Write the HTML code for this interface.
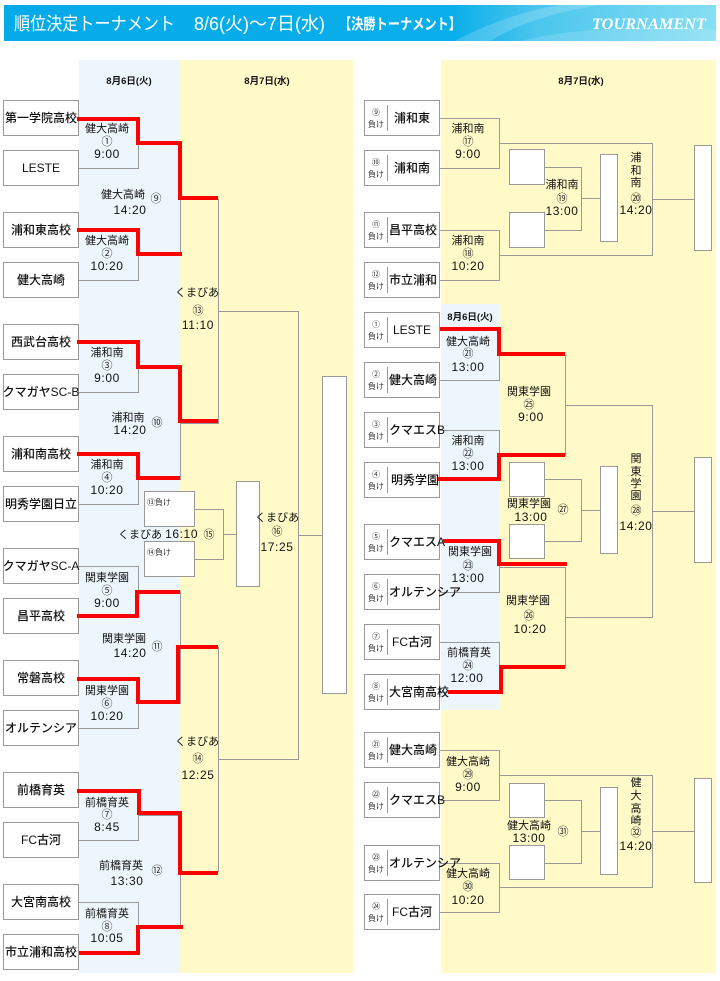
<!DOCTYPE html>
<html><head><meta charset="utf-8">
<style>
html,body{margin:0;padding:0;background:#fff;}
svg{display:block;}
text{font-family:"Liberation Sans","Noto Sans CJK JP",sans-serif;fill:#111;}
.nm{font-size:12px;font-weight:500;}
.lb{font-size:11px;text-anchor:middle;}
.cn{font-size:11px;text-anchor:middle;fill:#333;}
.tm{font-size:12px;text-anchor:middle;letter-spacing:0.6px;}
.sm{font-size:8px;text-anchor:middle;fill:#333;}
.hd{font-size:9.5px;font-weight:bold;text-anchor:middle;}
.g{fill:none;stroke:#999;stroke-width:1;}
.bx{fill:#fff;stroke:#999;stroke-width:1;}
.r{fill:none;stroke:#f00;stroke-width:4;}
</style></head>
<body>
<svg width="720" height="981" viewBox="0 0 720 981" xmlns="http://www.w3.org/2000/svg">
<defs>
<linearGradient id="hg" x1="0" y1="0" x2="1" y2="0">
<stop offset="0" stop-color="#06aae8"/><stop offset="0.63" stop-color="#0aaeea"/><stop offset="0.75" stop-color="#4cc6ee"/><stop offset="1" stop-color="#86def2"/>
</linearGradient>
</defs>
<!-- header -->
<rect x="4" y="5" width="712" height="36" fill="url(#hg)"/>
<path d="M455,41 Q505,14 560,5 L600,5 Q530,16 490,41 Z" fill="#ffffff" opacity="0.18"/>
<path d="M520,41 Q600,22 716,30 L716,41 Z" fill="#ffffff" opacity="0.15"/>
<text x="14" y="30" style="font-size:18px;fill:#fff" textLength="161" lengthAdjust="spacingAndGlyphs">順位決定トーナメント</text>
<text x="194" y="30" style="font-size:18px;fill:#fff" textLength="131" lengthAdjust="spacingAndGlyphs">8/6(火)～7日(水)</text>
<text x="339" y="29" style="font-size:15px;font-weight:bold;fill:#fff" textLength="122" lengthAdjust="spacingAndGlyphs">【決勝トーナメント】</text>
<text x="592" y="29" style="font-family:'Liberation Serif',serif;font-style:italic;font-weight:bold;font-size:16px;fill:#fff" textLength="114" lengthAdjust="spacingAndGlyphs">TOURNAMENT</text>

<!-- column backgrounds -->
<rect x="79" y="60" width="101" height="913" fill="#eef6fd"/>
<rect x="180" y="60" width="173" height="913" fill="#fffac8"/>
<rect x="441" y="60" width="275" height="913" fill="#fffac8"/>
<rect x="441" y="304" width="58" height="406" fill="#eef6fd"/>
<text class="hd" x="129" y="84">8月6日(火)</text>
<text class="hd" x="267" y="84">8月7日(水)</text>
<text class="hd" x="581" y="84">8月7日(水)</text>
<text class="hd" x="470" y="320">8月6日(火)</text>

<!-- LEFT gray lines -->
<path class="g" d="M79 118.5 H138.5 V168.5 H79 M79 230.5 H138.5 V280.5 H79 M79 342.5 H138.5 V392.5 H79 M79 454.5 H138.5 V504.5 H79 M79 566.5 H138.5 V616.5 H79 M79 678.5 H138.5 V728.5 H79 M79 790.5 H138.5 V840.5 H79 M79 902.5 H138.5 V952.5 H79"/>
<path class="g" d="M138 143.5 H180.5 V255.5 H138 M138 367.5 H180.5 V479.5 H138 M138 591.5 H180.5 V703.5 H138 M138 815.5 H180.5 V927.5 H138"/>
<path class="g" d="M180 199.5 H218.5 V423.5 H180 M180 647.5 H218.5 V871.5 H180"/>
<path class="g" d="M218 311.5 H298.5 V759.5 H218 M298 535.5 H322"/>
<rect class="bx" x="322.5" y="376.5" width="24" height="317"/>
<rect class="bx" x="144.5" y="491.5" width="50" height="35"/>
<rect class="bx" x="144.5" y="541.5" width="50" height="35"/>
<path class="g" d="M195 509.5 H223.5 V559.5 H195 M223 534.5 H236"/>
<rect class="bx" x="236.5" y="481.5" width="23" height="105"/>
<text x="147" y="505" style="font-size:8px;fill:#333">⑬負け</text>
<text x="147" y="555" style="font-size:8px;fill:#333">⑭負け</text>

<!-- LEFT team boxes -->
<g>
<rect class="bx" x="3.5" y="100.5" width="75" height="35"/>
<rect class="bx" x="3.5" y="150.5" width="75" height="35"/>
<rect class="bx" x="3.5" y="212.5" width="75" height="35"/>
<rect class="bx" x="3.5" y="262.5" width="75" height="35"/>
<rect class="bx" x="3.5" y="324.5" width="75" height="35"/>
<rect class="bx" x="3.5" y="374.5" width="75" height="35"/>
<rect class="bx" x="3.5" y="436.5" width="75" height="35"/>
<rect class="bx" x="3.5" y="486.5" width="75" height="35"/>
<rect class="bx" x="3.5" y="548.5" width="75" height="35"/>
<rect class="bx" x="3.5" y="598.5" width="75" height="35"/>
<rect class="bx" x="3.5" y="660.5" width="75" height="35"/>
<rect class="bx" x="3.5" y="710.5" width="75" height="35"/>
<rect class="bx" x="3.5" y="772.5" width="75" height="35"/>
<rect class="bx" x="3.5" y="822.5" width="75" height="35"/>
<rect class="bx" x="3.5" y="884.5" width="75" height="35"/>
<rect class="bx" x="3.5" y="934.5" width="75" height="35"/>
</g>
<g class="nm" text-anchor="middle">
<text class="nm" x="41" y="122" text-anchor="middle">第一学院高校</text>
<text class="nm" x="41" y="172" text-anchor="middle">LESTE</text>
<text class="nm" x="41" y="234" text-anchor="middle">浦和東高校</text>
<text class="nm" x="41" y="284" text-anchor="middle">健大高崎</text>
<text class="nm" x="41" y="346" text-anchor="middle">西武台高校</text>
<text class="nm" x="41" y="396" text-anchor="middle">クマガヤSC-B</text>
<text class="nm" x="41" y="458" text-anchor="middle">浦和南高校</text>
<text class="nm" x="41" y="508" text-anchor="middle">明秀学園日立</text>
<text class="nm" x="41" y="570" text-anchor="middle">クマガヤSC-A</text>
<text class="nm" x="41" y="620" text-anchor="middle">昌平高校</text>
<text class="nm" x="41" y="682" text-anchor="middle">常磐高校</text>
<text class="nm" x="41" y="732" text-anchor="middle">オルテンシア</text>
<text class="nm" x="41" y="794" text-anchor="middle">前橋育英</text>
<text class="nm" x="41" y="844" text-anchor="middle">FC古河</text>
<text class="nm" x="41" y="906" text-anchor="middle">大宮南高校</text>
<text class="nm" x="41" y="956" text-anchor="middle">市立浦和高校</text>
</g>

<!-- LEFT labels round1 -->
<text class="lb" x="107" y="132">健大高崎</text><text class="cn" x="107" y="145">①</text><text class="tm" x="107" y="158">9:00</text>
<text class="lb" x="107" y="244">健大高崎</text><text class="cn" x="107" y="257">②</text><text class="tm" x="107" y="270">10:20</text>
<text class="lb" x="107" y="356">浦和南</text><text class="cn" x="107" y="369">③</text><text class="tm" x="107" y="382">9:00</text>
<text class="lb" x="107" y="468">浦和南</text><text class="cn" x="107" y="481">④</text><text class="tm" x="107" y="494">10:20</text>
<text class="lb" x="107" y="581">関東学園</text><text class="cn" x="107" y="594">⑤</text><text class="tm" x="107" y="607">9:00</text>
<text class="lb" x="107" y="694">関東学園</text><text class="cn" x="107" y="707">⑥</text><text class="tm" x="107" y="720">10:20</text>
<text class="lb" x="107" y="806">前橋育英</text><text class="cn" x="107" y="818">⑦</text><text class="tm" x="107" y="831">8:45</text>
<text class="lb" x="107" y="917">前橋育英</text><text class="cn" x="107" y="930">⑧</text><text class="tm" x="107" y="942">10:05</text>
<!-- round2 -->
<text class="lb" x="123" y="198">健大高崎</text><text class="cn" x="156" y="202">⑨</text><text class="tm" x="130" y="214">14:20</text>
<text class="lb" x="128" y="421">浦和南</text><text class="cn" x="157" y="426">⑩</text><text class="tm" x="130" y="434">14:20</text>
<text class="lb" x="124" y="642">関東学園</text><text class="cn" x="157" y="650">⑪</text><text class="tm" x="130" y="657">14:20</text>
<text class="lb" x="121" y="869">前橋育英</text><text class="cn" x="157" y="874">⑫</text><text class="tm" x="127" y="885">13:30</text>
<!-- round3 / final -->
<text class="lb" x="197" y="296">くまびあ</text><text class="cn" x="198" y="314">⑬</text><text class="tm" x="198" y="329">11:10</text>
<text class="lb" x="197" y="745">くまびあ</text><text class="cn" x="198" y="762">⑭</text><text class="tm" x="198" y="779">12:25</text>
<text class="lb" x="277" y="521">くまびあ</text><text class="cn" x="277" y="535">⑯</text><text class="tm" x="277" y="551">17:25</text>
<text x="118" y="538" style="font-size:11px">くまびあ <tspan style="font-size:12px;letter-spacing:0.6px">16:10</tspan></text><text class="cn" x="209" y="538">⑮</text>

<!-- LEFT red -->
<path class="r" d="M77 119 H138 V143 H180 V198 H218"/>
<path class="r" d="M77 230 H138 V254 H182"/>
<path class="r" d="M77 342 H138 V367 H180 V421 H218"/>
<path class="r" d="M77 454 H138 V478 H180"/>
<path class="r" d="M77 616 H137 V592 H180"/>
<path class="r" d="M77 679 H138 V702 H178 V647 H218"/>
<path class="r" d="M77 791 H139 V813 H180 V873 H218"/>
<path class="r" d="M79 953 H138 V927 H183"/>

<!-- RIGHT gray lines -->
<path class="g" d="M440 118.5 H499.5 V168.5 H440 M440 230.5 H499.5 V280.5 H440 M499 143.5 H652.5 V255.5 H499 M652 199.5 H694"/>
<rect class="bx" x="694.5" y="145.5" width="17" height="105"/>
<rect class="bx" x="509.5" y="149.5" width="35" height="35"/>
<rect class="bx" x="509.5" y="212.5" width="35" height="35"/>
<path class="g" d="M545 167.5 H581.5 V230.5 H545 M581 198.5 H600"/>
<rect class="bx" x="600.5" y="154.5" width="17" height="87"/>

<path class="g" d="M440 330.5 H499.5 V380.5 H440 M440 430.5 H499.5 V480.5 H440 M440 542.5 H499.5 V592.5 H440 M440 642.5 H499.5 V692.5 H440"/>
<path class="g" d="M499 355.5 H565.5 V455.5 H499 M565 405.5 H652.5 V617.5 H565 M499 567.5 H565.5 V667.5 H499 M652 511.5 H694"/>
<rect class="bx" x="694.5" y="457.5" width="17" height="105"/>
<rect class="bx" x="509.5" y="462.5" width="35" height="34"/>
<rect class="bx" x="509.5" y="524.5" width="35" height="34"/>
<path class="g" d="M545 479.5 H581.5 V541.5 H545 M581 510.5 H600"/>
<rect class="bx" x="600.5" y="466.5" width="17" height="87"/>

<path class="g" d="M440 750.5 H499.5 V800.5 H440 M440 863.5 H499.5 V912.5 H440 M499 775.5 H652.5 V887.5 H499 M652 831.5 H694"/>
<rect class="bx" x="694.5" y="778.5" width="17" height="104"/>
<rect class="bx" x="509.5" y="783.5" width="35" height="34"/>
<rect class="bx" x="509.5" y="845.5" width="35" height="34"/>
<path class="g" d="M545 800.5 H581.5 V863.5 H545 M581 831.5 H600"/>
<rect class="bx" x="600.5" y="787.5" width="17" height="87"/>

<!-- RIGHT team boxes -->
<g>
<rect class="bx" x="364.5" y="100.5" width="75" height="35"/>
<rect class="bx" x="364.5" y="150.5" width="75" height="35"/>
<rect class="bx" x="364.5" y="212.5" width="75" height="35"/>
<rect class="bx" x="364.5" y="262.5" width="75" height="35"/>
<rect class="bx" x="364.5" y="312.5" width="75" height="35"/>
<rect class="bx" x="364.5" y="362.5" width="75" height="35"/>
<rect class="bx" x="364.5" y="412.5" width="75" height="35"/>
<rect class="bx" x="364.5" y="462.5" width="75" height="35"/>
<rect class="bx" x="364.5" y="524.5" width="75" height="35"/>
<rect class="bx" x="364.5" y="574.5" width="75" height="35"/>
<rect class="bx" x="364.5" y="624.5" width="75" height="35"/>
<rect class="bx" x="364.5" y="674.5" width="75" height="35"/>
<rect class="bx" x="364.5" y="732.5" width="75" height="35"/>
<rect class="bx" x="364.5" y="782.5" width="75" height="35"/>
<rect class="bx" x="364.5" y="845.5" width="75" height="35"/>
<rect class="bx" x="364.5" y="894.5" width="75" height="35"/>
</g>
<path class="g" d="M387.5 105 V131 M387.5 155 V181 M387.5 217 V243 M387.5 267 V293 M387.5 317 V343 M387.5 367 V393 M387.5 417 V443 M387.5 467 V493 M387.5 529 V555 M387.5 579 V605 M387.5 629 V655 M387.5 679 V705 M387.5 737 V763 M387.5 787 V813 M387.5 850 V876 M387.5 899 V925"/>
<!-- small loser labels -->
<text class="sm" x="376" y="115">⑨</text><text class="sm" x="376" y="127">負け</text>
<text class="sm" x="376" y="165">⑩</text><text class="sm" x="376" y="177">負け</text>
<text class="sm" x="376" y="227">⑪</text><text class="sm" x="376" y="239">負け</text>
<text class="sm" x="376" y="277">⑫</text><text class="sm" x="376" y="289">負け</text>
<text class="sm" x="376" y="327">①</text><text class="sm" x="376" y="339">負け</text>
<text class="sm" x="376" y="377">②</text><text class="sm" x="376" y="389">負け</text>
<text class="sm" x="376" y="427">③</text><text class="sm" x="376" y="439">負け</text>
<text class="sm" x="376" y="477">④</text><text class="sm" x="376" y="489">負け</text>
<text class="sm" x="376" y="539">⑤</text><text class="sm" x="376" y="551">負け</text>
<text class="sm" x="376" y="589">⑥</text><text class="sm" x="376" y="601">負け</text>
<text class="sm" x="376" y="639">⑦</text><text class="sm" x="376" y="651">負け</text>
<text class="sm" x="376" y="689">⑧</text><text class="sm" x="376" y="701">負け</text>
<text class="sm" x="376" y="747">㉑</text><text class="sm" x="376" y="759">負け</text>
<text class="sm" x="376" y="797">㉒</text><text class="sm" x="376" y="809">負け</text>
<text class="sm" x="376" y="860">㉓</text><text class="sm" x="376" y="872">負け</text>
<text class="sm" x="376" y="909">㉔</text><text class="sm" x="376" y="921">負け</text>
<!-- right names -->
<text class="nm" x="412" y="122" text-anchor="middle">浦和東</text>
<text class="nm" x="412" y="172" text-anchor="middle">浦和南</text>
<text class="nm" x="389" y="234">昌平高校</text>
<text class="nm" x="389" y="284">市立浦和</text>
<text class="nm" x="412" y="334" text-anchor="middle">LESTE</text>
<text class="nm" x="389" y="384">健大高崎</text>
<text class="nm" x="389" y="434">クマエスB</text>
<text class="nm" x="391" y="484">明秀学園</text>
<text class="nm" x="389" y="546">クマエスA</text>
<text class="nm" x="389" y="596">オルテンシア</text>
<text class="nm" x="412" y="646" text-anchor="middle">FC古河</text>
<text class="nm" x="389" y="696">大宮南高校</text>
<text class="nm" x="389" y="754">健大高崎</text>
<text class="nm" x="389" y="804">クマエスB</text>
<text class="nm" x="389" y="867">オルテンシア</text>
<text class="nm" x="412" y="916" text-anchor="middle">FC古河</text>

<!-- right labels top -->
<text class="lb" x="468" y="132">浦和南</text><text class="cn" x="468" y="145">⑰</text><text class="tm" x="468" y="158">9:00</text>
<text class="lb" x="468" y="244">浦和南</text><text class="cn" x="468" y="257">⑱</text><text class="tm" x="468" y="270">10:20</text>
<text class="lb" x="562" y="188">浦和南</text><text class="cn" x="562" y="202">⑲</text><text class="tm" x="562" y="215">13:00</text>
<text class="lb" x="636" y="161">浦</text><text class="lb" x="636" y="174">和</text><text class="lb" x="636" y="186">南</text><text class="cn" x="636" y="202">⑳</text><text class="tm" x="636" y="214">14:20</text>
<!-- right labels middle -->
<text class="lb" x="468" y="345">健大高崎</text><text class="cn" x="468" y="357">㉑</text><text class="tm" x="468" y="371">13:00</text>
<text class="lb" x="468" y="444">浦和南</text><text class="cn" x="468" y="457">㉒</text><text class="tm" x="468" y="470">13:00</text>
<text class="lb" x="470" y="555">関東学園</text><text class="cn" x="468" y="569">㉓</text><text class="tm" x="468" y="582">13:00</text>
<text class="lb" x="469" y="656">前橋育英</text><text class="cn" x="468" y="669">㉔</text><text class="tm" x="467" y="682">12:00</text>
<text class="lb" x="529" y="395">関東学園</text><text class="cn" x="529" y="408">㉕</text><text class="tm" x="531" y="421">9:00</text>
<text class="lb" x="528" y="604">関東学園</text><text class="cn" x="529" y="619">㉖</text><text class="tm" x="530" y="633">10:20</text>
<text class="lb" x="529" y="507">関東学園</text><text class="tm" x="531" y="521">13:00</text><text class="cn" x="563" y="513">㉗</text>
<text class="lb" x="636" y="462">関</text><text class="lb" x="636" y="475">東</text><text class="lb" x="636" y="487">学</text><text class="lb" x="636" y="499">園</text><text class="cn" x="636" y="514">㉘</text><text class="tm" x="636" y="530">14:20</text>
<!-- right labels bottom -->
<text class="lb" x="468" y="765">健大高崎</text><text class="cn" x="468" y="778">㉙</text><text class="tm" x="468" y="791">9:00</text>
<text class="lb" x="468" y="877">健大高崎</text><text class="cn" x="468" y="890">㉚</text><text class="tm" x="468" y="904">10:20</text>
<text class="lb" x="529" y="829">健大高崎</text><text class="tm" x="529" y="842">13:00</text><text class="cn" x="563" y="835">㉛</text>
<text class="lb" x="636" y="786">健</text><text class="lb" x="636" y="799">大</text><text class="lb" x="636" y="812">高</text><text class="lb" x="636" y="824">崎</text><text class="cn" x="636" y="836">㉜</text><text class="tm" x="636" y="850">14:20</text>

<!-- RIGHT red -->
<path class="r" d="M440 329 H499 V354 H565"/>
<path class="r" d="M438 479 H499 V455 H565"/>
<path class="r" d="M443 541 H499 V564 H567"/>
<path class="r" d="M448 692 H501 V667 H565"/>
</svg>
</body></html>
